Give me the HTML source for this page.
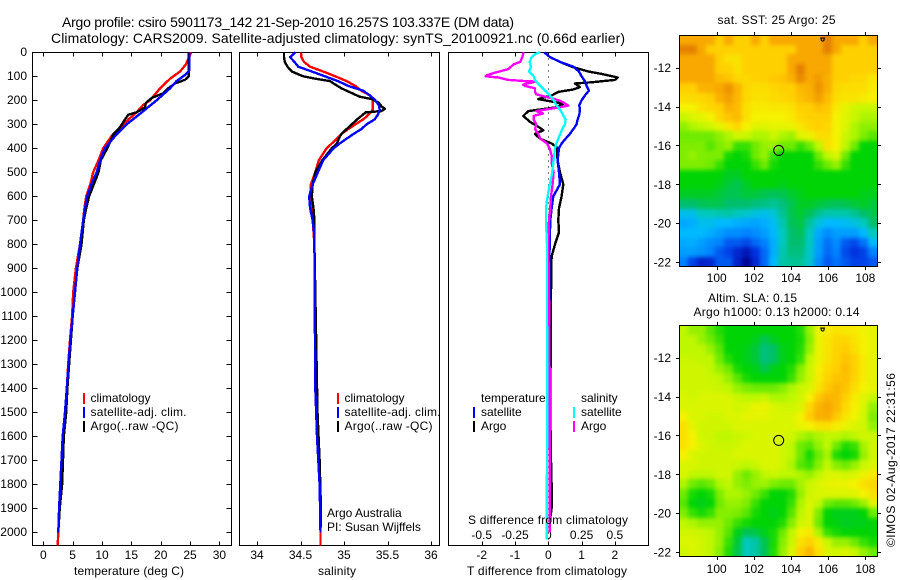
<!DOCTYPE html>
<html lang="en">
<head>
<meta charset="utf-8">
<title>Argo profile chart</title>
<style>
html,body{margin:0;padding:0;background:#fff;width:900px;height:580px;overflow:hidden}
svg{display:block}
text{font-family:"Liberation Sans",Arial,sans-serif;font-size:12px;fill:#000}
.title{font-size:14px}
.frame{fill:none;stroke:#000;stroke-width:1;shape-rendering:crispEdges}
.tick{stroke:#000;stroke-width:1;shape-rendering:crispEdges}
.series{fill:none;stroke-linejoin:round;shape-rendering:crispEdges}
</style>
</head>
<body>
<svg id="chart" xmlns="http://www.w3.org/2000/svg" width="900" height="580" viewBox="0 0 900 580">
  <defs>
    <filter id="field-soften" filterUnits="userSpaceOnUse" x="640" y="0" width="260" height="580" color-interpolation-filters="sRGB">
      <feGaussianBlur stdDeviation="2"/>
    </filter>
    <clipPath id="sst-clip"><rect x="680" y="35" width="198" height="232"/></clipPath>
    <clipPath id="sla-clip"><rect x="680" y="325" width="198" height="232"/></clipPath>
  </defs>
  <text class="title" x="62" y="27" textLength="452">Argo profile: csiro 5901173_142 21-Sep-2010 16.257S 103.337E (DM data)</text>
  <text class="title" x="51" y="43" textLength="574">Climatology: CARS2009. Satellite-adjusted climatology: synTS_20100921.nc (0.66d earlier)</text>

  <g id="temp-panel"></g>
  <g id="sal-panel"></g>
  <g id="diff-panel"></g>
  <g id="sst-map"></g>
  <g id="sla-map"></g>

  <g>
    <rect x="83" y="393" width="2" height="11" fill="#f00"/>
    <text x="90.5" y="402">climatology</text>
    <rect x="83" y="407" width="2" height="11" fill="#00f"/>
    <text x="90.5" y="416" textLength="96">satellite-adj. clim.</text>
    <rect x="83" y="421" width="2" height="11" fill="#000"/>
    <text x="90.5" y="430" textLength="88">Argo(..raw -QC)</text>
  </g>
  <g>
    <rect x="337" y="393" width="2" height="11" fill="#f00"/>
    <text x="344.5" y="402">climatology</text>
    <rect x="337" y="407" width="2" height="11" fill="#00f"/>
    <text x="344.5" y="416" textLength="96">satellite-adj. clim.</text>
    <rect x="337" y="421" width="2" height="11" fill="#000"/>
    <text x="344.5" y="430" textLength="88">Argo(..raw -QC)</text>
  </g>
  <text x="327" y="517">Argo Australia</text>
  <text x="327" y="531">PI: Susan Wijffels</text>

  <g>
    <text x="481" y="402">temperature</text>
    <rect x="473" y="407" width="2" height="11" fill="#00f"/>
    <text x="481" y="416">satellite</text>
    <rect x="473" y="421" width="2" height="11" fill="#000"/>
    <text x="481" y="430">Argo</text>
    <text x="581" y="402">salinity</text>
    <rect x="573" y="407" width="2" height="11" fill="#0ff"/>
    <text x="581" y="416">satellite</text>
    <rect x="573" y="421" width="2" height="11" fill="#f0f"/>
    <text x="581" y="430">Argo</text>
  </g>

  <text x="468" y="524" textLength="160">S difference from climatology</text>
  <text x="467" y="575" textLength="160">T difference from climatology</text>
  <text x="74" y="575" textLength="110">temperature (deg C)</text>
  <text x="318" y="575" textLength="38">salinity</text>

  <text x="717.5" y="24" textLength="118">sat. SST: 25 Argo: 25</text>
  <text x="708" y="302" textLength="89">Altim. SLA: 0.15</text>
  <text x="693.5" y="316" textLength="166">Argo h1000: 0.13 h2000: 0.14</text>
  <text transform="translate(895,547) rotate(-90)" textLength="174">©IMOS 02-Aug-2017 22:31:56</text>
</svg>

<script>
// ---------- axis tick labels ----------
const depthTicks = [0,100,200,300,400,500,600,700,800,900,1000,1100,1200,1300,1400,1500,1600,1700,1800,1900,2000];
const tempTicks = [0,5,10,15,20,25,30];
const salTicks = [34,34.5,35,35.5,36];
const salTickLabels = ['34','34.5','35','35.5','36'];
const tDiffTicks = [-2,-1,0,1,2];
const sDiffTicks = [-0.5,-0.25,0,0.25,0.5];
const sDiffTickLabels = ['-0.5','-0.25','0','0.25','0.5'];
const lonTicks = [100,102,104,106,108];
const latTicks = [-12,-14,-16,-18,-20,-22];

// ---------- temperature profiles ----------
const tempClimDepth = [0,50,80,110,150,200,220,250,300,350,400,450,500,550,600,650,700,800,900,1000,1100,1200,1300,1400,1500,1600,1700,1800,1900,2000,2054];
const tempClim = [25.2,24.3,23.3,21.6,19.9,18.2,17,15.9,13.6,11.6,10.2,9.4,8.5,8,7.3,7,6.8,6.25,5.55,5.1,4.9,4.55,4.25,4,3.7,3.3,3.1,2.9,2.7,2.55,2.45];
const tempSatDepth = [0,75,95,120,150,200,250,300,350,400,450,500,550,600,650,700,800,900,1000,1100,1200,1300,1400,1500,1600,1700,1800,1900,2000];
const tempSat = [24.9,24.9,24.1,22.7,21.6,19.3,16.8,14.2,12.2,10.5,9.7,9.1,8.2,7.5,7.1,6.8,6.25,5.8,5.4,5,4.6,4.3,4,3.7,3.3,3.1,2.9,2.7,2.55];
const tempArgoDepth = [0,100,115,130,150,170,190,210,230,250,260,280,300,320,340,360,400,450,500,550,600,650,700,800,900,1000,1100,1200,1300,1400,1500,1600,1700,1800,1900,1980];
const tempArgo = [24.8,24.8,24.1,22.4,21.3,20.5,18.5,17.5,17.3,15.9,14.5,13.9,13.4,12.8,12,11.6,10.9,9.8,9.4,8.6,7.8,7.3,6.9,6.5,5.8,5.4,5,4.7,4.4,4.1,3.9,3.5,3.35,3.2,2.8,2.6];

// ---------- salinity profiles ----------
const salClimDepth = [0,20,40,60,80,100,120,140,160,180,200,220,240,260,280,300,320,340,360,380,400,450,500,550,600,650,700,800,1400,1500,1600,1700,1800,1900,2000,2054];
const salClim = [34.505,34.51,34.54,34.61,34.76,34.9,35.03,35.13,35.2,35.3,35.33,35.33,35.33,35.28,35.22,35.13,35.05,34.97,34.92,34.86,34.8,34.71,34.67,34.62,34.61,34.64,34.64,34.66,34.67,34.68,34.69,34.71,34.72,34.725,34.73,34.73];
const salSatDepth = [0,20,40,60,80,100,120,140,160,180,200,220,240,260,280,300,320,340,360,380,400,450,500,550,600,650,700,750,800,1400,1500,1600,1700,1800,1900,2000];
const salSat = [34.44,34.38,34.43,34.475,34.63,34.78,34.93,35.05,35.22,35.3,35.36,35.4,35.41,35.39,35.35,35.26,35.2,35.11,35.03,34.95,34.88,34.76,34.7,34.64,34.6,34.61,34.64,34.655,34.66,34.67,34.68,34.69,34.705,34.72,34.725,34.73];
const salArgoDepth = [0,20,40,60,80,100,110,120,130,150,170,185,195,210,225,235,245,250,265,280,300,320,340,360,380,400,450,500,550,600,650,700,800,1500,1700,1900,1980];
const salArgo = [34.31,34.31,34.32,34.35,34.4,34.53,34.67,34.84,34.88,34.97,35.09,35.18,35.32,35.4,35.43,35.47,35.43,35.25,35.2,35.15,35.09,35.03,34.97,34.94,34.92,34.86,34.75,34.67,34.64,34.63,34.65,34.66,34.66,34.695,34.72,34.735,34.735];

// ---------- differences from climatology ----------
const diffTSatDepth = [0,20,40,60,80,100,120,140,160,180,200,220,240,260,280,300,320,340,360,380,400,450,500,550,600,650,700,800,1000,1500,2000];
const diffTSat = [-0.12,0.05,0.35,0.75,0.92,1,1.1,1.15,1.22,1.1,1,0.93,0.95,0.93,0.88,0.85,0.75,0.65,0.52,0.4,0.32,0.28,0.32,0.35,0.15,0.1,0.06,0.04,0.03,0.04,0.04];
const diffTArgoDepth = [40,60,80,90,105,115,125,130,145,155,165,180,195,205,215,230,245,265,290,310,325,340,360,380,395,450,500,550,600,650,700,750,800,850,1000,1500,1700,1800,1900,1950];
const diffTArgo = [0.35,0.7,1.2,1.6,2.08,2,1.3,0.8,0.95,0.75,0.3,0.1,-0.3,0.1,0.45,0.2,-0.6,-0.75,-0.55,-0.3,-0.15,-0.4,-0.25,0.1,0.25,0.28,0.35,0.45,0.4,0.32,0.3,0.32,0.2,0.1,0.08,0.06,0.08,0.1,0.1,0.05];
const diffSSatDepth = [0,5,20,40,60,80,100,120,140,160,180,200,220,240,260,280,300,320,340,360,380,400,450,500,550,600,650,700,800,1000,1500,2030];
const diffSSat = [-0.06,-0.09,-0.125,-0.14,-0.13,-0.145,-0.11,-0.095,-0.06,-0.025,0.012,0.04,0.06,0.09,0.11,0.13,0.125,0.105,0.09,0.075,0.06,0.05,0.04,0.03,0.012,-0.005,-0.017,-0.017,-0.01,-0.01,-0.008,-0.012];
const diffSArgoDepth = [0,20,40,50,70,85,95,100,105,115,120,122,130,135,140,150,165,175,185,195,205,222,230,245,255,265,280,300,320,340,360,380,400,430,460,500,550,600,650,700,800,1000,1500,2000];
const diffSArgo = [-0.185,-0.195,-0.21,-0.26,-0.3,-0.4,-0.46,-0.47,-0.375,-0.3,-0.175,-0.09,-0.16,-0.19,-0.175,-0.1,-0.1,-0.09,-0.025,0.05,0.1,0.15,0.075,-0.09,-0.04,-0.11,-0.11,-0.09,-0.1,-0.075,-0.06,-0.01,0.01,0.025,0.025,0.04,0.032,0.02,0.015,0.005,0,0.005,0.012,0.012];

// ---------- map fields (colour level at each cell) ----------
const sstField = [
[11,11,11,11,10,11,10,10,11,10,11,11,11,11,11,11,12,11,11,11,10,11],
[12,12,11,10,10,10,10,10,10,10,10,10,10,11,11,11,12,11,10,10,10,10],
[11,11,11,11,10,9.5,9.5,10,10,10,10,10,11,11,11,11,11,10,10,10,10,10],
[11,11,11,11,10,10,9.5,10,10,10,10,10,11,12,11,11,11,10,10,10,10,10],
[11,11,11,11,10.5,10.3,9.8,9.8,10,10,10.2,10.3,10.8,11.7,11,11.3,10.8,10,10,9.8,9.8,9.3],
[10,10,10.7,10.8,11,11.5,10.7,9.8,9.6,9.6,9.8,10,10,10.6,10.8,11.5,10.8,9.8,9.6,9.6,9.6,9.2],
[9.6,9.7,9.8,10,10.8,11.2,10.6,9.8,9.5,9.5,9.7,9.8,10,10.4,10.7,11.2,10.5,9.6,9.4,9.4,9.2,9],
[9,9,9.5,9.8,10,10.8,10.5,9.5,9.2,9.2,9.3,9.3,9.5,10,10,10.4,10.2,9.3,8.7,8.3,8.2,8.2],
[8.2,8.5,8.7,9,9.8,10.3,10.5,9.5,9,9,9,9,9.3,9.8,10,10,10,9,8.6,8.2,7.8,7.8],
[7.4,7.8,8,8.3,8.7,9.3,9.8,9,8.6,8.6,8.7,8.7,8.8,9.3,9.8,10,9.8,9,8.5,7.8,7.4,7.4],
[7,7,7,7,7.4,7.8,8.3,8.2,7.8,7.8,8.2,7.8,7.6,8.6,8.8,9.6,9.6,9,8.2,7.8,7.2,6.8],
[7.2,7.2,7.2,6.8,7.2,7.5,6.5,6.5,7,7.5,7.5,7,7,6.5,7,8,9.5,9,8,7,6,6],
[7.2,7.5,7.2,7.2,7.2,6.2,6,6.2,7,7.5,6.5,6,6,6,6,7,8,8.5,7,6,6,6],
[7.2,7.2,7.2,7,6.5,6,6,6,6.5,7,6.2,6,6,6,6,6.5,7,7.5,6.5,6,6,6],
[6,6,6,6,6,5.7,5.7,6,6,6,6,6,6,6,6,6,6,6,6,6,6,6],
[6,6,6,6,5.8,5.5,5.3,5.7,6,6,6,5.8,6,6,6,6,6,6,6,6,6,6],
[5.7,5.7,5.7,5.7,5.5,5.3,5.3,5.5,5.5,5.3,5.2,5.3,5.6,5.8,6,6,6,6,6,6,5.8,5.8],
[5,5,5.2,5.3,5.3,5,5,5,4.8,4.7,4.5,4.8,5.3,5.7,5.7,5.5,5.3,5.2,5.3,5.5,5.7,5.5],
[3.3,3.3,4,4,4.2,4.3,4,3.8,3.5,3.3,3.7,4.5,5.3,5.6,5.2,4.5,4.2,4.2,4.2,4.5,5,5.3],
[2.7,2.8,3.3,3.3,3,3,2.8,2.7,2.6,2.8,3.2,4.2,5.2,5.4,4.4,3.5,3,3,3.2,3.5,4,5],
[3,3,3,2.8,2.5,2.2,2.2,2,2.2,2.5,3,4,5,5.2,4,2.7,2.2,2.5,2.5,2.5,3,4],
[2.7,2.8,2.5,2.2,2,1.5,1.5,1.3,1.7,2,2.8,4,5,5,4,2.5,1.8,2.2,1.5,1.3,1.8,3],
[2.5,2.5,2.3,2,1.5,1.2,0.8,0.5,1,1.7,2.8,4.2,4.8,4.8,3.8,2.5,1.7,2,1.3,1,1.2,2],
[2,1.2,0.7,0.8,1.5,1.5,0.7,0.1,0.8,1.7,3,4.3,4.5,4.5,3.8,2.2,1.5,1.8,1.5,1.2,1.2,1.5]
];
const slaField = [
[8,7.5,7.5,6.8,6.3,6,6,6,6,6,6,6,6,6.3,7.5,8.8,9.2,9.4,9.3,9.2,8.9,8.7],
[8,8,7.5,7,6.5,6,6,6,5.8,5.3,5.7,6,6,6.2,7.3,8.8,9.4,9.8,9.8,9.4,9,8.7],
[8,8,8,7.5,6.8,6,6,5.8,5.5,4.8,5.1,5.8,6,6.3,7.5,8.8,9.4,9.9,10.1,9.6,9,8.7],
[8.2,8.2,8,8,7,6.3,6,5.8,5.5,4.8,5.1,5.8,6,6.5,8,8.8,9.5,9.9,10.3,10,9.2,8.7],
[8.3,8.3,8.3,8,7.5,7,6.2,6,5.8,5.3,5.8,6,6.3,7.3,8.2,9.1,9.7,10,10.5,10,9.2,8.7],
[8.3,8.3,8.3,8.2,8,7.5,6.8,6.2,6,6,6,6,6.5,7.5,8.2,9.2,9.9,10.3,10.4,9.9,9.2,8.7],
[8.3,8.3,8.3,8.3,8.2,8,7.5,7.2,7,7,7,7.3,7.8,8.2,8.5,9.4,10.2,10.6,10.3,9.6,9,8.7],
[8.5,8.3,8.5,8.5,8.5,8.5,8.2,8,8,8.2,7.8,7.8,8,8.3,9,10.2,10.7,10.6,10,9.2,8.6,8.2],
[8.5,8.5,8.5,8.5,8.5,8.5,8.3,8.5,8.8,8.8,8.5,8.3,8.3,8.5,9.8,10.7,11,10.6,9.7,9.1,8.5,7.5],
[9,8.5,8.5,8.3,8.3,8.5,8.5,8.7,8.7,8.7,8.5,8.5,8.5,9,10.1,10.8,10.9,10.2,9.4,8.9,8.3,7.2],
[9.5,8.7,8.3,8.3,8.3,8.3,8.5,8.5,8.5,8.5,8.5,8.5,8.5,8.8,9,9.5,9.5,9.2,8.8,8.5,8.3,7.5],
[9.5,9,8.3,8.3,8,8,8.2,8.3,8.5,8.5,8.5,8.5,8.3,7.8,7.5,7.8,8,8,7.8,8,8.3,8.2],
[9.5,9,8.5,8.3,8.2,8.2,8.3,8.5,8.5,8.5,8.5,8.3,8,7,6.8,7.5,8,7,6.3,6.5,7.7,8.3],
[9,8.5,8.3,8.3,8.3,8.3,8.5,8.5,8.5,8.5,8.5,8.3,8,7,6.2,7,7.7,6.3,6,6.2,7.5,8.3],
[8.5,8.5,8.3,8.3,8.3,8.3,8.2,8,8.2,8.5,8.5,8.3,7.8,6.8,6.5,7.3,8,7.3,7,7.5,8.2,8.5],
[8.5,8,8,8,8.3,8.3,7.5,7,7.5,8,8.2,8,8,7.8,7.5,8,8.5,8.5,8.3,8.5,8.8,9.2],
[7.8,7,6.8,7,7.8,8,7.5,7.2,7.5,7.6,7.2,7,7,7.7,8.2,8.5,8.7,8.8,8.8,9,9.5,9.8],
[7,6.2,6,6.2,7.2,7.8,7.8,7.5,7,6.5,6,6,6.3,7.5,8.3,8.5,8.5,8.5,8.5,8.6,9,9.5],
[6.8,6,5.8,6,7,7.5,7.5,7.2,6.5,6,6,6,6.5,7.8,8.5,8,7,6.8,6.8,7,7.5,8.5],
[7.2,6.5,6.2,6.5,7.3,7.3,7.2,6.8,6.2,6,5.8,6,6.8,8,8.5,7.2,6,5.8,5.8,5.8,6,7],
[8,7.8,7.5,7.5,7.5,7,6.5,6.2,6,6,6,6.3,7.3,8.3,8.5,7,6,5.9,5.7,5.8,5.8,6],
[8.3,8.3,8.2,8,7.5,6.8,5.8,5.2,5.4,5.8,6.2,7,8,9,9.2,7.8,6.5,6.2,6,6,6,6],
[8.5,8.5,8.3,8,7.5,6.5,5.5,4,4.3,5.3,6.2,7.3,8.2,9.5,10,9.2,8.2,7.5,7.5,7,6.5,6.2],
[8.3,8.5,8.3,8,7.3,6.3,5.3,4,4.3,5.2,6.3,7.5,8.5,10,10.7,9.5,8.5,8.3,8.5,8.2,7.5,7]
];
const profileLocation = [103.337,-16.257];
const nearbyLocation = [105.7,-10.55];

// ---------- rendering ----------
const NS = 'http://www.w3.org/2000/svg';
function make(tag, attrs, parent){
  const n = document.createElementNS(NS, tag);
  for (const k in attrs) n.setAttribute(k, attrs[k]);
  parent.appendChild(n);
  return n;
}
const paletteStops = [[0,0,140],[0,50,225],[0,130,255],[0,185,255],[0,200,190],[0,190,110],[0,212,5],[110,235,0],[190,247,0],[245,242,0],[255,208,0],[248,168,0],[228,128,0]];
function levelColor(v){
  const i = Math.max(0, Math.min(paletteStops.length - 2, Math.floor(v)));
  const f = Math.max(0, Math.min(1, v - i));
  const a = paletteStops[i], b = paletteStops[i + 1];
  return 'rgb(' + a.map((c, k) => Math.round(c + (b[k] - c) * f)).join(',') + ')';
}
const depthY = d => 52.3 + 0.24 * d;
const tempX = v => 43.3 + 5.87 * v;
const salX = v => 257 + 87 * (v - 34);
const tDiffX = v => 548.3 + 33.3 * v;
const sDiffX = v => 548.3 + 133.2 * v;
const PANEL_TOP = 52.5, PANEL_BOTTOM = 545.5;
const LINE_WIDTH = 2.4;

function drawSeries(parent, depths, values, xFn, color, width, name){
  const pts = values.map((v, i) => xFn(v).toFixed(1) + ',' + depthY(depths[i]).toFixed(1)).join(' ');
  const line = make('polyline', {class:'series', points:pts, stroke:color, 'stroke-width':width}, parent);
  
  
}
function drawPanelFrame(parent, left, right, xTicks, xFn, labels, labelY){
  const frame = make('rect', {class:'frame', x:left, y:PANEL_TOP, width:right - left, height:PANEL_BOTTOM - PANEL_TOP}, parent);
  
  
  xTicks.forEach((t, i) => {
    const x = Math.round(xFn(t)) + 0.5;
    const top = make('line', {class:'tick', x1:x, x2:x, y1:PANEL_TOP, y2:PANEL_TOP + 4}, parent);
    
    
    const bottom = make('line', {class:'tick', x1:x, x2:x, y1:PANEL_BOTTOM - 4, y2:PANEL_BOTTOM}, parent);
    
    
    const label = make('text', {x:xFn(t), y:labelY, 'text-anchor':'middle'}, parent);
    label.textContent = labels[i];
    
    
  });
}

// Temperature panel
const tempPanel = document.getElementById('temp-panel');
drawPanelFrame(tempPanel, 32.5, 231.5, tempTicks, tempX, tempTicks.map(String), 559);
depthTicks.forEach(d => {
  const y = Math.round(depthY(d)) + 0.5;
  const leftTick = make('line', {class:'tick', x1:32.5, x2:37.5, y1:y, y2:y}, tempPanel);
  
  
  const rightTick = make('line', {class:'tick', x1:226.5, x2:231.5, y1:y, y2:y}, tempPanel);
  
  
  const label = make('text', {x:27, y:depthY(d) + 3.8, 'text-anchor':'end'}, tempPanel);
  label.textContent = d;
  
  
});
drawSeries(tempPanel, tempClimDepth, tempClim, tempX, '#f00', LINE_WIDTH, 'temperature-climatology-line');
drawSeries(tempPanel, tempArgoDepth, tempArgo, tempX, '#000', LINE_WIDTH, 'temperature-argo-line');
drawSeries(tempPanel, tempSatDepth, tempSat, tempX, '#00f', LINE_WIDTH, 'temperature-satellite-line');

// Salinity panel
const salPanel = document.getElementById('sal-panel');
drawPanelFrame(salPanel, 239.5, 439.5, salTicks, salX, salTickLabels, 559);
drawSeries(salPanel, salClimDepth, salClim, salX, '#f00', LINE_WIDTH, 'salinity-climatology-line');
drawSeries(salPanel, salArgoDepth, salArgo, salX, '#000', LINE_WIDTH, 'salinity-argo-line');
drawSeries(salPanel, salSatDepth, salSat, salX, '#00f', LINE_WIDTH, 'salinity-satellite-line');

// Difference panel
const diffPanel = document.getElementById('diff-panel');
drawPanelFrame(diffPanel, 448.5, 648.5, tDiffTicks, tDiffX, tDiffTicks.map(String), 559);
sDiffTicks.forEach((t, i) => {
  const label = make('text', {x:sDiffX(t), y:539, 'text-anchor':'middle'}, diffPanel);
  label.textContent = sDiffTickLabels[i];
  
  
});
const zeroLine = make('line', {x1:548.5, x2:548.5, y1:PANEL_TOP, y2:PANEL_BOTTOM, stroke:'#000', 'stroke-width':1, 'stroke-dasharray':'1 5', 'shape-rendering':'crispEdges'}, diffPanel);


drawSeries(diffPanel, diffTArgoDepth, diffTArgo, tDiffX, '#000', LINE_WIDTH, 't-difference-argo-line');
drawSeries(diffPanel, diffTSatDepth, diffTSat, tDiffX, '#00f', LINE_WIDTH, 't-difference-satellite-line');
drawSeries(diffPanel, diffSArgoDepth, diffSArgo, sDiffX, '#f0f', LINE_WIDTH, 's-difference-argo-line');
drawSeries(diffPanel, diffSSatDepth, diffSSat, sDiffX, '#0ff', LINE_WIDTH, 's-difference-satellite-line');

// Maps
const LON_LEFT = 97.99, LON_RIGHT = 108.64, LAT_TOP = -10.32, LAT_BOTTOM = -22.23;
const EDGE_BLEED = 14;
function drawMap(parent, field, clipId, top, bottom, labelY){
  const lonX = lon => 716.7 + 18.58 * (lon - 100);
  const latY = lat => top + 32.7 + 19.43 * (-12 - lat);
  const rows = field.length, cols = field[0].length;
  const dLon = (LON_RIGHT - LON_LEFT) / cols, dLat = (LAT_TOP - LAT_BOTTOM) / rows;
  const clipGroup = make('g', {'clip-path':'url(#' + clipId + ')'}, parent);
  
  
  const cellGroup = make('g', {filter:'url(#field-soften)'}, clipGroup);
  
  
  field.forEach((row, r) => row.forEach((v, c) => {
    let x0 = Math.round(lonX(LON_LEFT + c * dLon)), x1 = Math.round(lonX(LON_LEFT + (c + 1) * dLon));
    let y0 = Math.round(latY(LAT_TOP - r * dLat)), y1 = Math.round(latY(LAT_TOP - (r + 1) * dLat));
    if (c === 0) x0 -= EDGE_BLEED;
    if (c === cols - 1) x1 += EDGE_BLEED;
    if (r === 0) y0 -= EDGE_BLEED;
    if (r === rows - 1) y1 += EDGE_BLEED;
    const cell = make('rect', {x:x0, y:y0, width:x1 - x0, height:y1 - y0, fill:levelColor(v), 'shape-rendering':'crispEdges'}, cellGroup);
    
    
  }));
  const frame = make('rect', {class:'frame', x:679.5, y:top + 0.5, width:198, height:bottom - top}, parent);
  
  
  lonTicks.forEach(lon => {
    const x = Math.round(lonX(lon)) + 0.5;
    const topTick = make('line', {class:'tick', x1:x, x2:x, y1:top - 3, y2:top}, parent);
    
    
    const bottomTick = make('line', {class:'tick', x1:x, x2:x, y1:bottom + 1, y2:bottom + 4}, parent);
    
    
    const label = make('text', {x:lonX(lon), y:labelY, 'text-anchor':'middle'}, parent);
    label.textContent = lon;
    
    
  });
  latTicks.forEach(lat => {
    const y = Math.round(latY(lat)) + 0.5;
    const leftTick = make('line', {class:'tick', x1:676, x2:679.5, y1:y, y2:y}, parent);
    
    
    const rightTick = make('line', {class:'tick', x1:877.5, x2:881, y1:y, y2:y}, parent);
    
    
    const label = make('text', {x:671, y:latY(lat) + 4.5, 'text-anchor':'end'}, parent);
    label.textContent = lat;
    
    
  });
  const marker = make('circle', {cx:lonX(profileLocation[0]), cy:latY(profileLocation[1]), r:5, fill:'none', stroke:'#000', 'stroke-width':1}, parent);
  
  
  const nearby = make('circle', {cx:lonX(nearbyLocation[0]), cy:latY(nearbyLocation[1]), r:1.5, fill:'none', stroke:'#000', 'stroke-width':1}, parent);
  
  
  const nearbyStroke = make('line', {x1:lonX(nearbyLocation[0]) - 2.5, x2:lonX(nearbyLocation[0]) + 2.5, y1:latY(nearbyLocation[1]) - 1.5, y2:latY(nearbyLocation[1]) - 1.5, stroke:'#000', 'stroke-width':1}, parent);
  
  
}
drawMap(document.getElementById('sst-map'), sstField, 'sst-clip', 35, 266, 282);
drawMap(document.getElementById('sla-map'), slaField, 'sla-clip', 325, 556, 573);
</script>
</body>
</html>
